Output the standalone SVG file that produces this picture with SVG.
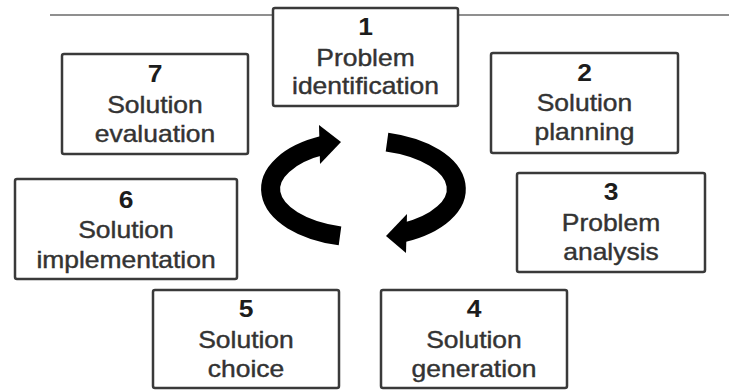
<svg xmlns="http://www.w3.org/2000/svg" width="729" height="390" viewBox="0 0 729 390">
  <style>
    .box { fill: #ffffff; stroke: #3a3a3a; stroke-width: 2.5; }
    .num { font-family: "Liberation Sans", Arial, sans-serif; font-size: 23px; font-weight: bold; fill: #1c1c1c; text-anchor: middle; }
    .lbl { font-family: "Liberation Sans", Arial, sans-serif; font-size: 23px; fill: #333333; stroke: #333333; stroke-width: 0.4; text-anchor: middle; }
    .rule { stroke: #8f8f8f; stroke-width: 2; }
    .arc { fill: none; stroke: #000000; stroke-width: 19; stroke-linecap: butt; }
    .head { fill: #000000; }
  </style>

  <rect width="729" height="390" fill="#ffffff"/>

  <!-- header rule -->
  <line class="rule" x1="50" y1="15" x2="729" y2="15"/>

  <!-- cycle arrows -->
  <g id="connectors">
    <path class="arc" d="M340 235.9 A93 48.5 0 0 1 324 145.1"/>
    <polygon class="head" points="319,125 341,142 320,164"/>
    <path class="arc" d="M387 142.1 A93 48.5 0 0 1 402 233.1"/>
    <polygon class="head" points="407,214 386,236 406,253"/>
  </g>

  <g id="node1">
    <rect class="box" x="273" y="8" width="185" height="98" rx="2"/>
    <g transform="translate(365.5 0) scale(1.15 1)">
      <text class="num" x="0" y="35">1</text>
      <text class="lbl" x="0" y="66">Problem</text>
      <text class="lbl" x="0" y="94">identification</text>
    </g>
  </g>

  <g id="node2">
    <rect class="box" x="491" y="53" width="187" height="100" rx="2"/>
    <g transform="translate(584.5 0) scale(1.15 1)">
      <text class="num" x="0" y="81">2</text>
      <text class="lbl" x="0" y="111">Solution</text>
      <text class="lbl" x="0" y="140">planning</text>
    </g>
  </g>

  <g id="node3">
    <rect class="box" x="517" y="173" width="188" height="99" rx="2"/>
    <g transform="translate(611 0) scale(1.15 1)">
      <text class="num" x="0" y="200">3</text>
      <text class="lbl" x="0" y="231">Problem</text>
      <text class="lbl" x="0" y="260">analysis</text>
    </g>
  </g>

  <g id="node4">
    <rect class="box" x="381" y="290" width="186" height="98" rx="2"/>
    <g transform="translate(474 0) scale(1.15 1)">
      <text class="num" x="0" y="317">4</text>
      <text class="lbl" x="0" y="348">Solution</text>
      <text class="lbl" x="0" y="377">generation</text>
    </g>
  </g>

  <g id="node5">
    <rect class="box" x="153" y="290" width="186" height="98" rx="2"/>
    <g transform="translate(246 0) scale(1.15 1)">
      <text class="num" x="0" y="317">5</text>
      <text class="lbl" x="0" y="348">Solution</text>
      <text class="lbl" x="0" y="377">choice</text>
    </g>
  </g>

  <g id="node6">
    <rect class="box" x="15" y="179" width="222" height="100" rx="2"/>
    <g transform="translate(126 0) scale(1.15 1)">
      <text class="num" x="0" y="208">6</text>
      <text class="lbl" x="0" y="238">Solution</text>
      <text class="lbl" x="0" y="268">implementation</text>
    </g>
  </g>

  <g id="node7">
    <rect class="box" x="62" y="54" width="186" height="100" rx="2"/>
    <g transform="translate(155 0) scale(1.15 1)">
      <text class="num" x="0" y="82">7</text>
      <text class="lbl" x="0" y="113">Solution</text>
      <text class="lbl" x="0" y="142">evaluation</text>
    </g>
  </g>
</svg>
